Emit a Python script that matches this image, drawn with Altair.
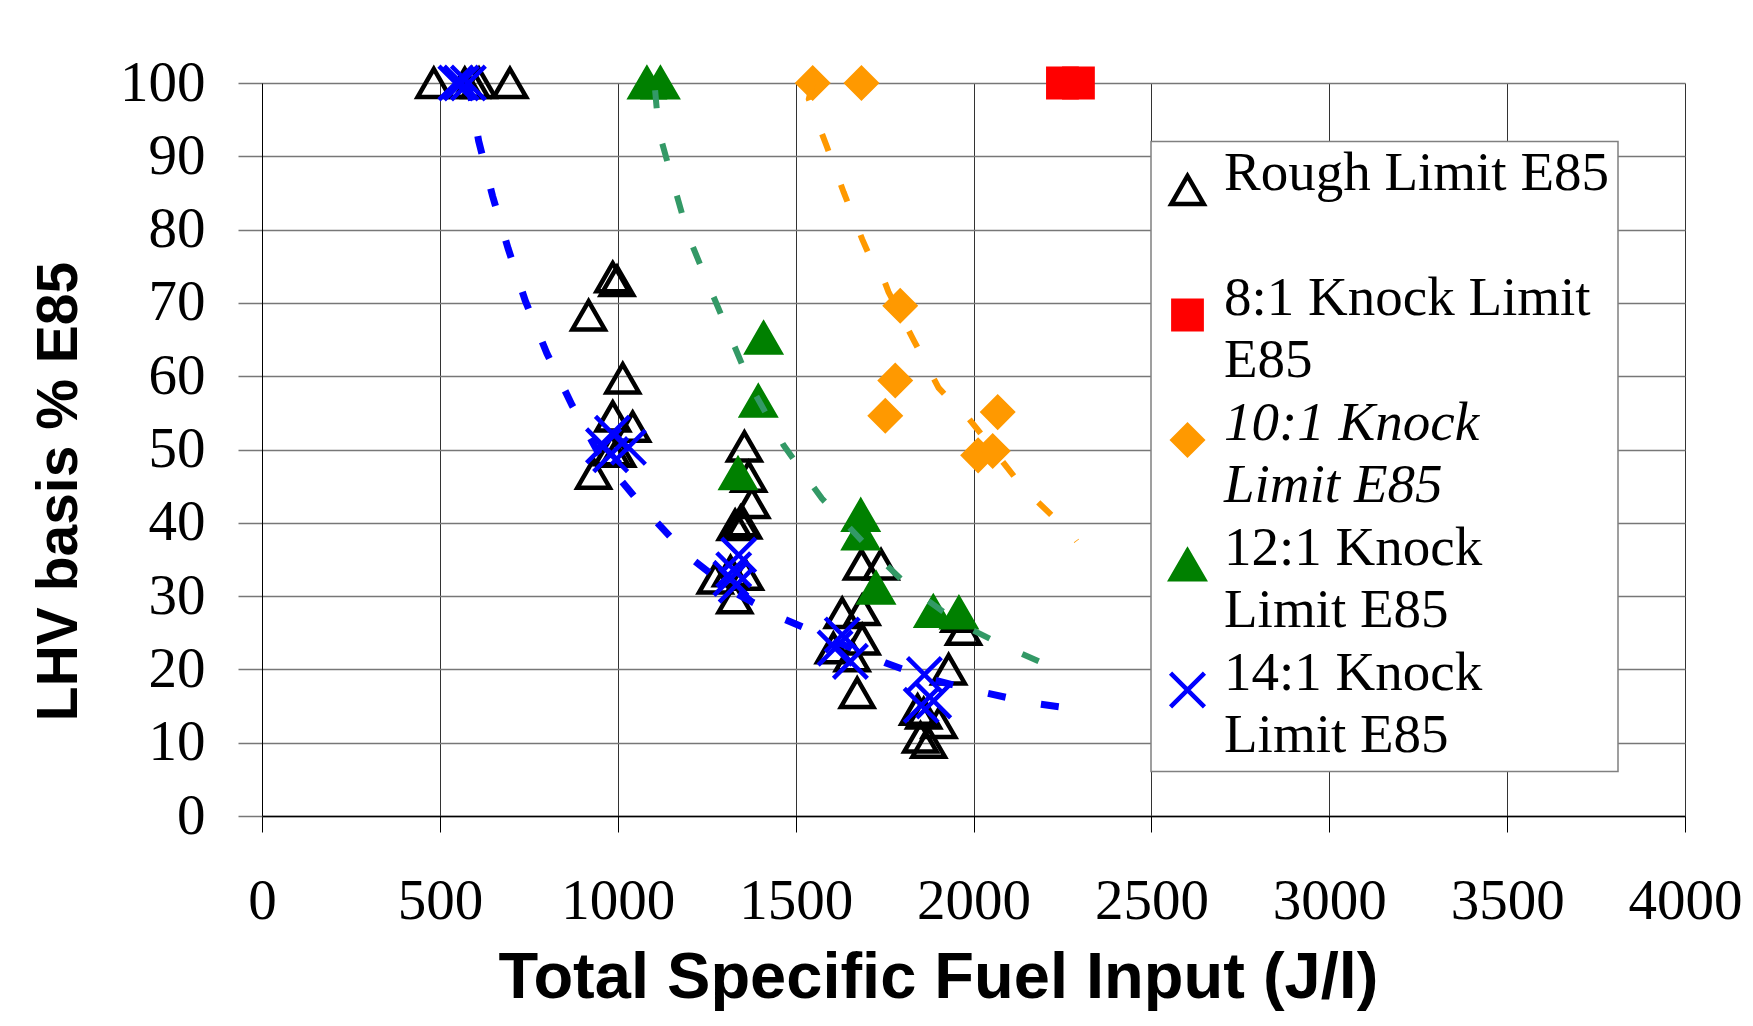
import altair as alt
import pandas as pd

# ---------------- data ----------------
series = ["Rough Limit E85|", "8:1 Knock Limit|E85", "10:1 Knock|Limit E85",
          "12:1 Knock|Limit E85", "14:1 Knock|Limit E85"]

rough_x = [483, 570, 590, 610, 697, 986, 998, 918, 1014, 986, 1042, 983, 1000, 932,
           1356, 1368, 1377, 1330, 1345, 1354, 1274, 1317, 1359, 1329,
           1685, 1740, 1631, 1687, 1687, 1606, 1659, 1673,
           1959, 1972, 1930, 1843, 1860, 1903, 1851, 1874]
rough_y = [100, 100, 100, 100, 100, 73.5, 73.0, 68.3, 59.7, 54.5, 53.1, 49.9, 49.7, 46.7,
           50.4, 46.3, 42.7, 39.7, 40.2, 39.9, 32.4, 33.4, 32.9, 29.7,
           34.3, 34.3, 27.7, 28.1, 24.1, 22.9, 21.8, 16.8,
           27.2, 25.4, 20.0, 14.5, 14.0, 12.7, 10.7, 10.0]

k8_x = [2250, 2295]
k8_y = [100, 100]

k10_x = [1548, 1685, 1794, 1780, 1752, 2068, 2013, 2054]
k10_y = [100, 100, 69.6, 59.4, 54.6, 55.1, 49.2, 49.8]

k12_x = [1082, 1120, 1410, 1395, 1338, 1683, 1683, 1726, 1887, 1959]
k12_y = [100, 100, 65.2, 56.6, 46.7, 41.0, 38.5, 31.1, 27.9, 27.7]

k14_x = [545, 560, 580, 985, 1030, 980, 960, 1340, 1326, 1318, 1333,
         1631, 1611, 1654, 1862, 1853, 1888]
k14_y = [100, 100, 100, 52.2, 50.3, 49.3, 50.5, 35.6, 33.6, 32.4, 31.5,
         24.7, 22.9, 21.1, 19.3, 15.1, 15.7]

# dashed trend curves
blue_tx = [580, 609, 648, 692, 740, 801, 872, 946, 1082, 1200, 1331, 1471, 1752, 1884, 2015, 2165, 2300]
blue_ty = [100, 92.1, 84.6, 77.4, 70.3, 63.1, 56.0, 49.5, 41.5, 35.4, 30.4, 26.8, 20.9, 18.6, 17.0, 15.4, 14.5]

green_tx = [1105, 1115, 1157, 1198, 1260, 1321, 1378, 1466, 1574, 1701, 1818, 1959, 2099, 2249]
green_ty = [99, 93.5, 86.2, 79.2, 71.9, 64.9, 58.3, 50.6, 43.3, 36.8, 31.3, 26.3, 22.9, 19.7]

orange_tx = [1548, 1537, 1588, 1635, 1687, 1715, 1747, 1761, 1832, 1902, 1949, 1987, 2025, 2137, 2278, 2290]
orange_ty = [100, 97.8, 91.3, 85.1, 78.7, 75.6, 73.3, 71.5, 64.9, 58.4, 56.0, 54.2, 51.9, 44.9, 38.3, 37.5]

x_ticks = [0, 500, 1000, 1500, 2000, 2500, 3000, 3500, 4000]
y_ticks = [0, 10, 20, 30, 40, 50, 60, 70, 80, 90, 100]

# ---------------- tables ----------------
rows = []
for name, xs, ys in zip(series, [rough_x, k8_x, k10_x, k12_x, k14_x],
                        [rough_y, k8_y, k10_y, k12_y, k14_y]):
    for xv, yv in zip(xs, ys):
        rows.append({"x": xv, "y": yv, "series": name})
pts = pd.DataFrame(rows)

def trend(xs, ys):
    return pd.DataFrame({"x": xs, "y": ys, "i": list(range(len(xs)))})

X_PATH = "M-1,-1L1,1M-1,1L1,-1"
shapes = ["triangle-up", "square", "diamond", "triangle-up", X_PATH]
fills = ["transparent", "#FF0000", "#FF9900", "#008000", "transparent"]
strokes = ["#000000", "#FF0000", "#FF9900", "#008000", "#0000FF"]
sizes = [1050, 800, 880, 1100, 1150]

x_enc = alt.X("x:Q", scale=alt.Scale(domain=[0, 4000], nice=False, zero=False),
              axis=alt.Axis(values=x_ticks, format="d", title="Total Specific Fuel Input (J/l)",
                            labelFont="Liberation Serif", labelFontSize=57, labelColor="black",
                            labelPadding=41, labelFlush=False, labelOverlap=False,
                            tickSize=16, tickColor="black", tickWidth=1,
                            domainColor="black", domainWidth=1.5,
                            grid=True, gridColor="#333333", gridWidth=1,
                            titleFont="Liberation Sans", titleFontWeight="bold", titleFontSize=65,
                            titleColor="black", titleX=676, titleY=181, titleBaseline="alphabetic",
                            titleAlign="center"))
y_enc = alt.Y("y:Q", scale=alt.Scale(domain=[0, 100], nice=False),
              axis=alt.Axis(values=y_ticks, format="d", title="LHV basis % E85",
                            labelFont="Liberation Serif", labelFontSize=57, labelColor="black",
                            labelPadding=33, labelOverlap=False,
                            tickSize=24, tickColor="#777777", tickWidth=1.5,
                            domainColor="black", domainWidth=1,
                            grid=True, gridColor="#777777", gridWidth=1.5,
                            titleFont="Liberation Sans", titleFontWeight="bold", titleFontSize=57,
                            titleColor="black", titleAngle=270, titleX=-186, titleY=408,
                            titleBaseline="alphabetic", titleAlign="center"))

legend = alt.Legend(title=" ", titleFontSize=4, titlePadding=8,
                    orient="none", legendX=889, legendY=58.5,
                    padding=9, fillColor="white", strokeColor="#808080",
                    labelFont="Liberation Serif", labelFontSize=55, labelColor="black",
                    labelLimit=0, labelBaseline="alphabetic", labelOffset=9,
                    labelExpr="split(datum.label, '|')",
                    labelFontStyle=alt.ExprRef(expr="datum.value == '10:1 Knock|Limit E85' ? 'italic' : 'normal'"),
                    symbolStrokeWidth=4.5, rowPadding=8)

points = alt.Chart(pts).mark_point(strokeWidth=4.5, opacity=1).encode(
    x=x_enc, y=y_enc,
    shape=alt.Shape("series:N", scale=alt.Scale(domain=series, range=shapes), legend=legend),
    fill=alt.Fill("series:N", scale=alt.Scale(domain=series, range=fills), legend=legend),
    stroke=alt.Stroke("series:N", scale=alt.Scale(domain=series, range=strokes), legend=legend),
    size=alt.Size("series:N", scale=alt.Scale(type="ordinal", domain=series, range=sizes), legend=legend),
)

def line_layer(xs, ys, color, width):
    return alt.Chart(trend(xs, ys)).mark_line(color=color, strokeWidth=width,
                                              strokeDash=[18, 36], strokeCap="butt").encode(
        x=x_enc, y=y_enc, order=alt.Order("i:Q"))

chart = alt.layer(
    points,
    line_layer(blue_tx, blue_ty, "#0000FF", 7),
    line_layer(green_tx, green_ty, "#339966", 6),
    line_layer(orange_tx, orange_ty, "#FF9900", 6),
).properties(
    width=1423, height=733,
    padding={"left": 254, "top": 75, "right": 60, "bottom": 210},
    autosize=alt.AutoSizeParams(type="none"),
).configure(
    background="white",
    style={"guide-label": {"lineHeight": 61.5}},
).configure_view(stroke=None).configure_legend(strokeWidth=1.5)

chart.save("out.html", embed_options={"renderer": "svg", "actions": False})
